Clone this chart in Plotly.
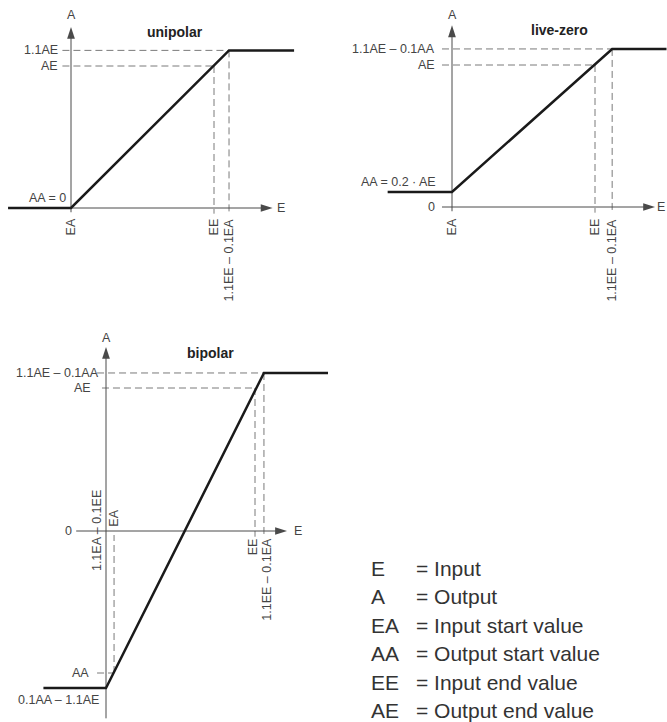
import plotly.graph_objects as go

W, H = 667, 722
FONT = "Liberation Sans"
TXT = "#444444"
AXC = "#4a4a4a"
DASHC = "#7a7a7a"
CURVEC = "#1a1a1a"
LABEL_SIZE = 12.5

# ---------------- unipolar (diagram units: EA = 0, EE = 10 ; A = 0, AE = 10)
uni_curve_x = [-4.4, 0, 11.05, 15.6]
uni_curve_y = [0, 0, 11.1, 11.1]
uni_xtick_pos = [0, 10, 11.05]
uni_xtick_lab = ["EA", "EE", "1.1EE – 0.1EA"]
uni_ytick_pos = [0, 10, 11.1]
uni_ytick_lab = ["AA = 0", "AE", "1.1AE"]
uni_guides = [(10, 10), (11.05, 11.1)]          # (E, A) corners with dashed guides
uni_xaxis = [-4.4, 14.1]
uni_yaxis = [-0.3, 12.75]

# ---------------- live-zero
lz_curve_x = [-4.5, 0, 11.2, 15.0]
lz_curve_y = [1.06, 1.06, 11.13, 11.13]
lz_xtick_pos = [0, 10, 11.2]
lz_xtick_lab = ["EA", "EE", "1.1EE – 0.1EA"]
lz_ytick_pos = [0, 1.06, 10, 11.13]
lz_ytick_lab = ["0", "AA = 0.2 · AE", "AE", "1.1AE – 0.1AA"]
lz_guides = [(10, 10), (11.2, 11.13)]
lz_xaxis = [-0.7, 14.2]
lz_yaxis = [-0.3, 12.8]

# ---------------- bipolar
bi_curve_x = [-4.2, 0, 10.6, 14.9]
bi_curve_y = [-10.98, -10.98, 11.05, 11.05]
bi_xtick_pos = [-0.6, 0.54, 10, 10.6]
bi_xtick_lab = ["1.1EA – 0.1EE", "EA", "EE", "1.1EE – 0.1EA"]
bi_ytick_pos = [0, -9.93, -11.82, 10, 11.05]
bi_ytick_lab = ["0", "AA", "0.1AA – 1.1AE", "AE", "1.1AE – 0.1AA"]
bi_guides = [(10, 10), (10.6, 11.05), (0.54, -9.93)]
bi_xaxis = [-2.0, 12.15]
bi_yaxis = [-13.1, 12.87]

# ---------------- legend
legend_keys = ["E", "A", "EA", "AA", "EE", "AE"]
legend_vals = ["= Input", "= Output", "= Input start value",
               "= Output start value", "= Input end value", "= Output end value"]

titles = ["unipolar", "live-zero", "bipolar"]

# ---------------- panel geometry (pixels): box, origin, px per unit
panels = [
    dict(box=(0, 0, 333, 315), origin=(71, 208), scale=(14.3, 14.2)),
    dict(box=(334, 0, 667, 315), origin=(452, 207), scale=(14.3, 14.2)),
    dict(box=(0, 320, 345, 722), origin=(106, 531), scale=(14.9, 14.3)),
]

fig = go.Figure()
annotations = []
layout = dict(width=W, height=H, margin=dict(l=0, r=0, t=0, b=0),
              paper_bgcolor="white", plot_bgcolor="white", showlegend=False)

for i, p in enumerate(panels):
    n = "" if i == 0 else str(i + 1)
    x0, y0, x1, y1 = p["box"]
    ox, oy = p["origin"]
    sx, sy = p["scale"]
    layout["xaxis" + n] = dict(domain=[x0 / W, x1 / W],
                               range=[(x0 - ox) / sx, (x1 - ox) / sx],
                               visible=False, fixedrange=True, anchor="y" + n)
    layout["yaxis" + n] = dict(domain=[1 - y1 / H, 1 - y0 / H],
                               range=[(oy - y1) / sy, (oy - y0) / sy],
                               visible=False, fixedrange=True, anchor="x" + n)


def ref(i):
    n = "" if i == 0 else str(i + 1)
    return "x" + n, "y" + n


def add_axes(i, xext, yext, sx, sy):
    xr, yr = ref(i)
    fig.add_trace(go.Scatter(x=[xext[0], xext[1] - 4 / sx, None, 0, 0],
                             y=[0, 0, None, yext[0], yext[1] - 4 / sy],
                             mode="lines", line=dict(color=AXC, width=1),
                             xaxis=xr, yaxis=yr, hoverinfo="skip"))
    fig.add_trace(go.Scatter(x=[xext[1], 0], y=[0, yext[1]], mode="markers",
                             marker=dict(symbol="arrow", size=12.5, color=AXC,
                                         angle=[90, 0], line=dict(width=0)),
                             xaxis=xr, yaxis=yr, hoverinfo="skip"))


def add_guides(i, guides, hstarts, vends):
    xr, yr = ref(i)
    xs, ys = [], []
    for (cx, cy), hs, ve in zip(guides, hstarts, vends):
        if hs is not None:
            xs += [hs, cx, None]
            ys += [cy, cy, None]
        xs += [cx, cx, None]
        ys += [cy, ve, None]
    fig.add_trace(go.Scatter(x=xs, y=ys, mode="lines",
                             line=dict(color=DASHC, width=1, dash="7px,4px"),
                             xaxis=xr, yaxis=yr, hoverinfo="skip"))


def add_curve(i, cx, cy):
    xr, yr = ref(i)
    fig.add_trace(go.Scatter(x=cx, y=cy, mode="lines",
                             line=dict(color=CURVEC, width=2.5),
                             xaxis=xr, yaxis=yr, hoverinfo="skip"))


def label(i, text, x, y, xa="center", ya="middle", angle=0, size=LABEL_SIZE, bold=False):
    xr, yr = ref(i)
    annotations.append(dict(
        text=f"<b>{text}</b>" if bold else text, x=x, y=y, xref=xr, yref=yr,
        xanchor=xa, yanchor=ya, textangle=angle, showarrow=False,
        font=dict(family=FONT, size=size, color="#222" if bold else TXT),
        borderpad=0))


# ---- unipolar
sx, sy = panels[0]["scale"]
add_guides(0, uni_guides, [-0.6, -0.6], [-0.4, -0.4])
add_axes(0, uni_xaxis, uni_yaxis, sx, sy)
add_curve(0, uni_curve_x, uni_curve_y)
for pos, lab in zip(uni_xtick_pos, uni_xtick_lab):
    label(0, lab, pos, -0.7, xa="center", ya="top", angle=-90)
for pos, lab in zip(uni_ytick_pos, uni_ytick_lab):
    if pos == 0:
        label(0, lab, -0.3, 0.12, xa="right", ya="bottom")
    else:
        label(0, lab, -0.85, pos, xa="right", ya="middle")
label(0, "A", 0, 13.6)
label(0, "E", 14.7, 0)
label(0, titles[0], 7.27, 12.4, size=14, bold=True)

# ---- live-zero
sx, sy = panels[1]["scale"]
add_guides(1, lz_guides, [-0.7, -0.7], [-0.4, -0.4])
add_axes(1, lz_xaxis, lz_yaxis, sx, sy)
add_curve(1, lz_curve_x, lz_curve_y)
for pos, lab in zip(lz_xtick_pos, lz_xtick_lab):
    label(1, lab, pos, -0.77, xa="center", ya="top", angle=-90)
for pos, lab in zip(lz_ytick_pos, lz_ytick_lab):
    if lab.startswith("AA"):
        label(1, lab, -1.05, pos + 0.12, xa="right", ya="bottom")
    else:
        label(1, lab, -1.1, pos, xa="right", ya="middle")
label(1, "A", 0, 13.5)
label(1, "E", 14.6, 0)
label(1, titles[1], 7.55, 12.46, size=14, bold=True)

# ---- bipolar
sx, sy = panels[2]["scale"]
add_guides(2, bi_guides, [-0.27, -0.6, -0.6], [-0.4, -0.4, -0.28])
add_axes(2, bi_xaxis, bi_yaxis, sx, sy)
add_curve(2, bi_curve_x, bi_curve_y)
bi_x_anchor = [(0.0, "middle", 0.0), (0.0, "bottom", 0.2),
               (-0.15, "top", -0.42), (0.15, "top", -0.42)]
for pos, lab, (dx, ya, yy) in zip(bi_xtick_pos, bi_xtick_lab, bi_x_anchor):
    label(2, lab, pos + dx, yy, xa="center", ya=ya, angle=-90)
bi_y_x = [-2.2, -1.07, -0.4, -0.94, -0.4]
for pos, lab, xx in zip(bi_ytick_pos, bi_ytick_lab, bi_y_x):
    label(2, lab, xx, pos, xa="right", ya="middle")
label(2, "A", 0, 13.5)
label(2, "E", 12.9, 0)
label(2, titles[2], 6.98, 12.45, size=14, bold=True)

# ---- legend
for k, (key, val) in enumerate(zip(legend_keys, legend_vals)):
    yc = 568 + k * 28.5
    for txt, xp in ((key, 370), (val, 415)):
        annotations.append(dict(text=txt, x=xp / W, y=1 - yc / H, xref="paper",
                                yref="paper", xanchor="left", yanchor="middle",
                                showarrow=False, borderpad=0,
                                font=dict(family=FONT, size=21, color="#333")))

layout["annotations"] = annotations
fig.update_layout(**layout)
fig.write_html("out.html",
               config={"displayModeBar": False, "staticPlot": True},
               post_script="document.body.style.margin='0px';"
                           "document.body.style.overflow='hidden';")
